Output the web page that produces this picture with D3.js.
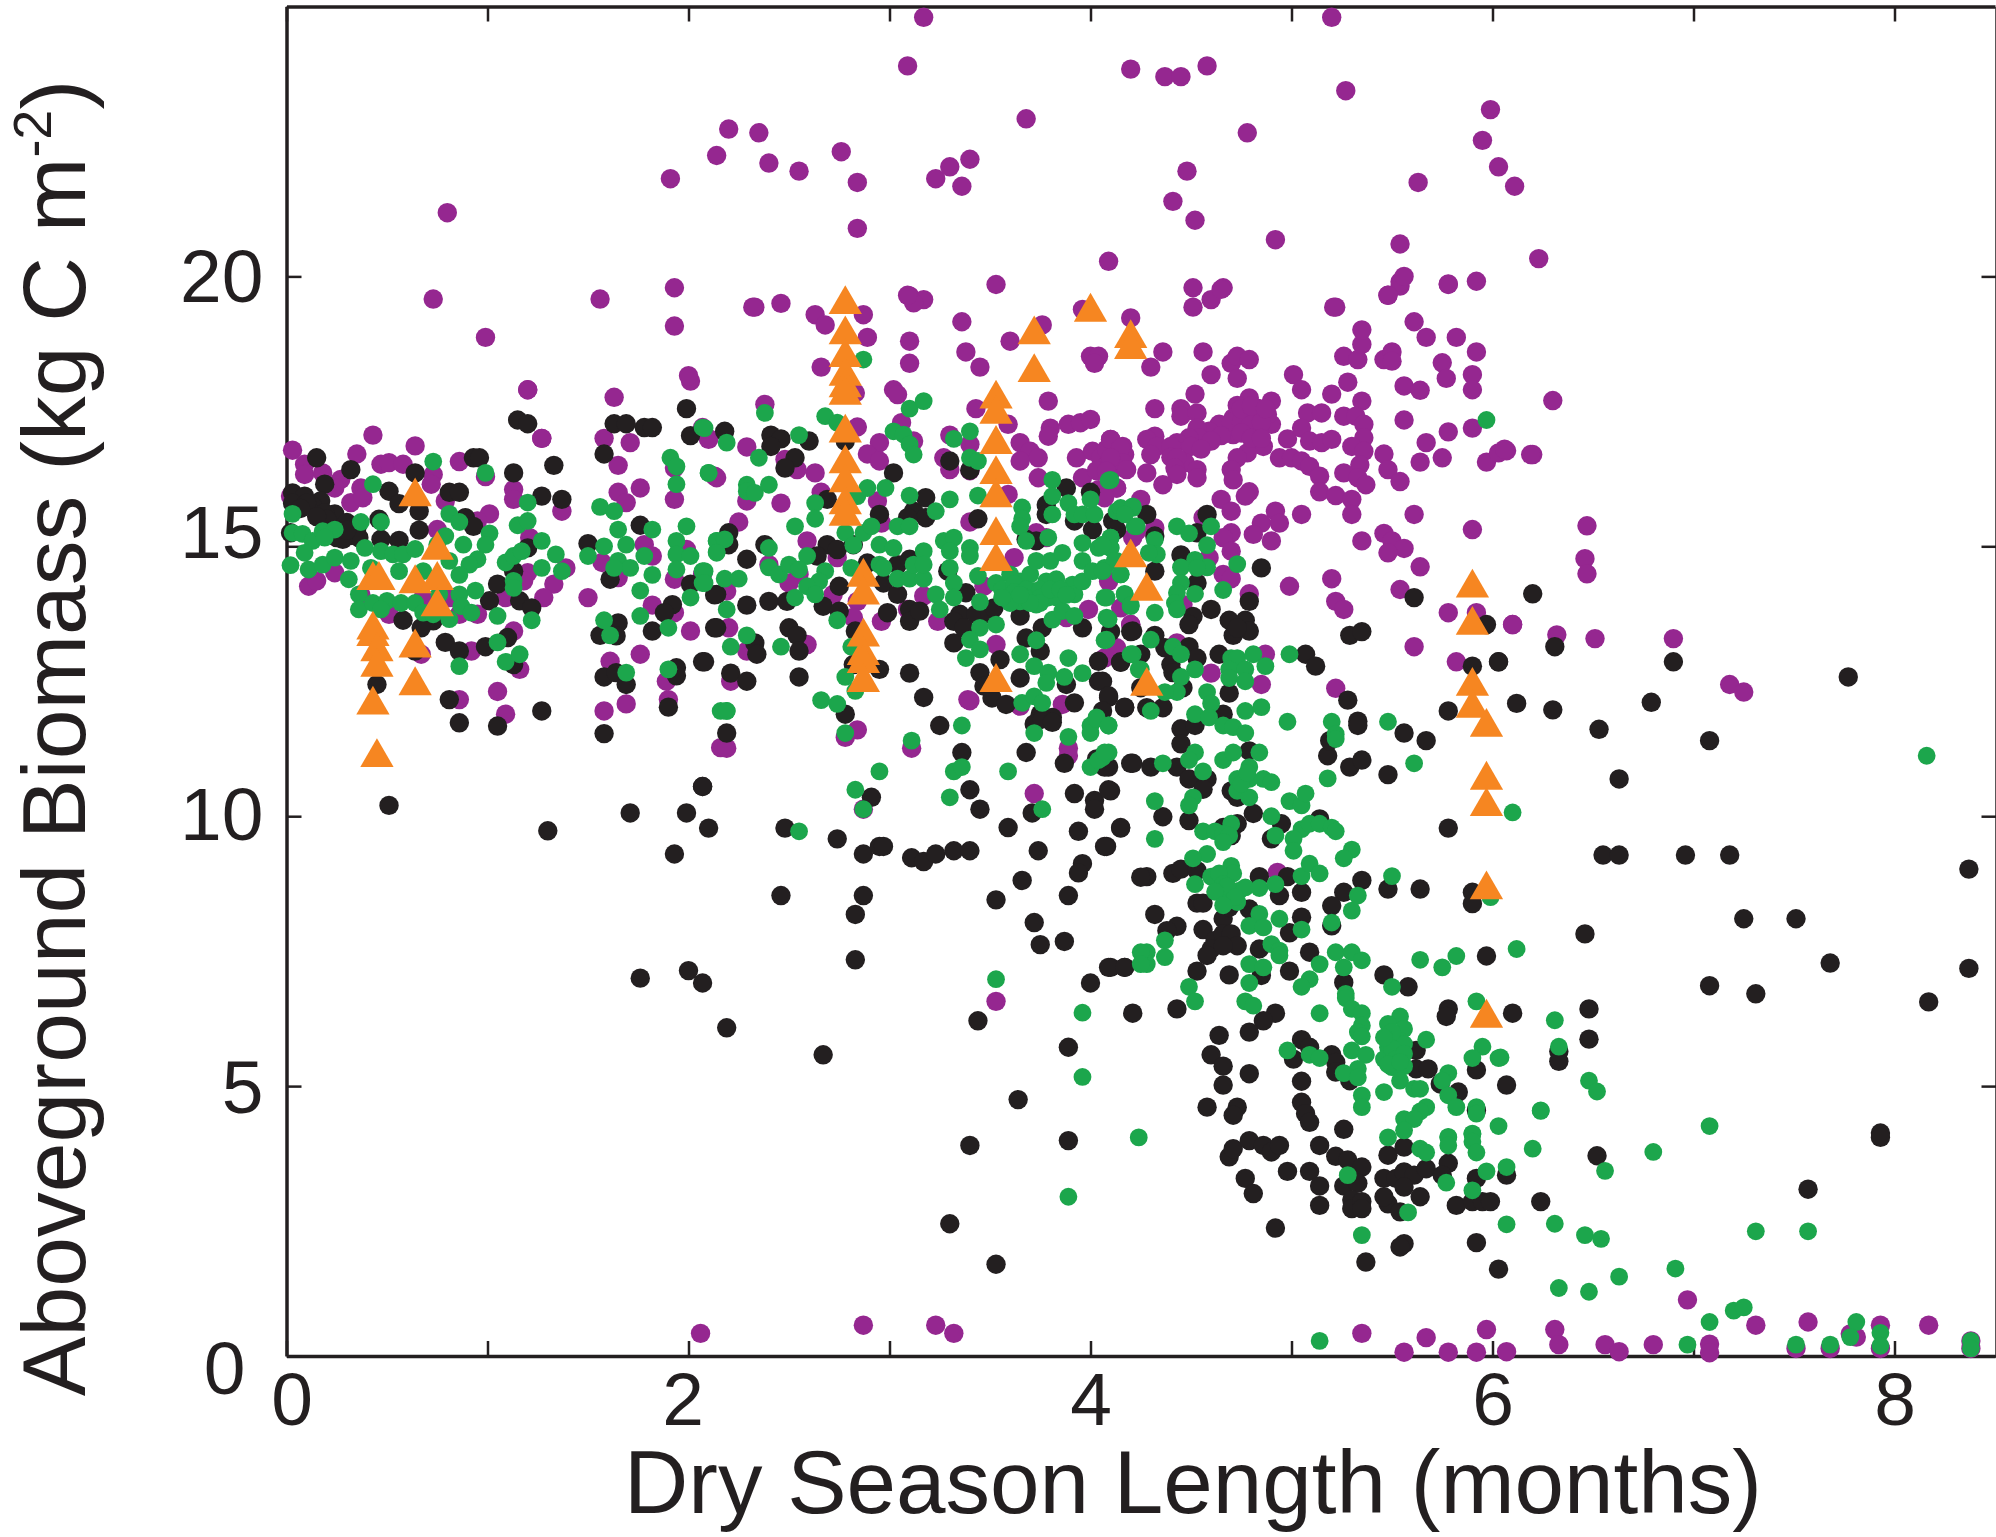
<!DOCTYPE html>
<html lang="en">
    <head>
        <meta charset="UTF-8">
        <title>Aboveground Biomass vs Dry Season Length</title>
        <script src="https://d3js.org/d3.v7.min.js"></script>
        <style>
            body { margin: 0; padding: 0; background: #fff; overflow: hidden; }
            svg { display: block; font-family: "Liberation Sans", sans-serif; }
            text { fill: #231f20; }
        </style>
    </head>
    <body>
        <svg id="chart" width="1996" height="1537"></svg>
        <script>
            const xTicks = [0, 1, 2, 3, 4, 5, 6, 7, 8];
            const xTickLabels = ["0", "", "2", "", "4", "", "6", "", "8"];
            const yTicks = [0, 5, 10, 15, 20];
            const yTickLabels = ["0", "5", "10", "15", "20"];

            // [dry season months, biomass kg C / m2]
            const purple = [
                [.03,16.78],[.09,16.52],[.09,16.33],[.18,16.36],[.27,16.24],[.24,16.08],[.43,17.06],[.35,16.71],[.47,16.52],[.51,16.55],[.58,16.52],[.64,16.86],[.73,16.33],[.72,16.15],
                [.37,16.08],[.32,15.81],[.38,15.9],[.02,15.93],[.79,15.84],[.86,16.57],[.99,16.29],[1.01,15.6],[.75,15.31],[.95,15.47],[1.27,17],[1.2,17.9],[1.13,16.05],[1.13,15.87],[1.37,15.65],[1.21,15.16],[1.2,14.51],[1.39,14.6],[1.33,14.3],[1.28,14.05],[1.09,14.05],[1.18,14.36],
                [.11,14.26],[.15,14.36],[.24,14.51],[.37,14.1],[.51,13.74],[.68,14.05],[.81,14.05],[.86,13.74],[.95,13.74],[1.13,13.43],[.67,13],[.92,13.06],[1.16,12.72],[.86,12.16],[1.05,12.31],[1.09,11.89],[1.5,14.05],
                [1.63,17.76],[2.01,18.06],[1.58,17],[1.71,16.92],[1.65,16.5],[1.93,16.45],[2.07,17.2],[2.1,17],[2.13,16.3],[1.65,16],[1.76,16.08],[1.69,15.81],[1.93,15.87],[1.78,15.03],[1.82,14.82],[1.57,14.7],[1.65,14.42],[1.93,14.39],[1.99,14.94],
                [1.82,13.91],[1.93,13.77],[2.01,13.43],[1.76,13],[1.61,12.87],[1.89,12.5],[1.69,12.08],[1.9,12.16],[1.58,11.95],[2.16,11.27],
                [2.33,19.43],[2.46,19.5],[2.63,19.29],[2.68,19.1],[2.87,19.29],[2.89,18.87],[3.1,19.64],[3.17,19.57],[3.12,19.51],[3.53,19.85],[3.36,19.16],[3.1,18.8],[3.1,18.39],[3.38,18.6],[3.45,18.32],[3.6,18.8],[3.76,19.1],[3.96,19.39],[4,18.52],[4.04,18.52],[4.02,18.39],[4.2,19.23],[2.66,18.32],[2.83,17.84],[3.02,17.9],[3.04,17.81],
                [2.38,17.63],[3.43,17.55],[3.79,17.69],[3.06,17.29],[2.84,17.21],[3.3,17.06],[3.12,16.95],[2.95,16.92],[2.89,16.71],[2.95,16.58],[3.27,16.64],[3.3,16.42],[3.4,16.89],[3.4,16.4],
                [3.59,17.26],[3.65,16.92],[3.8,17.19],[3.79,17.04],[3.89,17.26],[3.95,17.29],[4,17.35],[3.7,16.76],[3.74,16.64],[3.65,16.58],[3.74,16.27],[3.93,16.64],[4.01,16.76],[4.1,16.98],[4.16,16.85],[4.05,16.64],[4.13,16.64],[4.16,16.5],[3.96,16.27],[4.04,16.05],[4.13,16.08],[3.59,15.96],
                [2.1,16.98],[2.29,16.84],[2.14,16.27],[2.48,16.61],[2.54,16.42],[2.63,16.36],[2.29,15.84],[2.46,15.8],[2.66,16],[2.94,15.84],[2.25,15.45],[3.4,15.45],[2.96,15.43],
                [2.59,15.1],[3.73,15.25],[3.78,15.16],[4.21,15.16],[2.74,14.79],[3.62,14.79],[2.4,14.66],[2.55,14.48],[2.5,14.32],[2.19,14.17],[2.07,14.48],[2.72,14.11],[2.84,13.98],[3.17,14.08],[2.82,13.68],[3.09,13.83],[2.96,13.61],[3.24,13.61],[3.47,14.26],[3.88,13.68],[3.99,13.83],[4.2,13.55],[3.53,13.18],[2.2,13.49],[2.29,13.06],[2.21,12.5],[3.39,12.16],[3.86,12.07],[3.65,12.04],[4.13,13.12],[2.59,13.18],
                [4.51,19.79],[4.51,19.43],[4.6,19.57],[4.66,19.79],[5.48,19.65],[5.54,19.82],[5.78,19.85],[5.92,19.91],[5.22,19.43],[4.36,18.6],[4.3,18.32],[4.56,18.6],[4.6,18.18],[4.7,18.39],[4.73,18.52],[4.79,18.46],[4.73,18.11],
                [5.01,18.18],[5.05,17.9],[5.2,17.82],[5.28,18.04],[5.26,18.52],[5.33,18.46],[5.35,18.74],[5.35,19.01],[5.46,18.46],[5.5,18.6],[5.5,18.43],[5.61,19.16],[5.67,18.87],[5.82,18.87],[5.92,18.6],[5.75,18.4],[5.77,18.11],[5.9,18.18],[5.9,17.9],[5.56,17.97],[5.64,17.89],[5.35,17.69],
                [4.52,17.82],[4.32,17.55],[4.45,17.55],[4.45,17.41],[4.53,17.47],[4.9,17.69],[4.79,17.75],[4.73,17.61],[4.83,17.56],[4.9,17.26],[4.88,17.44],[4.78,17.44],[4.71,17.38],[4.64,17.26],[4.78,17.19],[4.84,17.19],[4.71,17.07],[4.59,17.13],[4.53,17.19],[4.54,17.01],[4.49,17.01],[4.43,16.92],[4.32,17.04],[4.28,16.98],[4.33,16.85],[4.4,16.85],[4.3,16.7],[4.86,16.85],[4.78,16.73],[4.73,16.64],[4.7,16.42],[4.71,16.23],[4.79,16.01],[4.77,15.93],
                [4.7,17.3],[4.75,17.3],[4.8,17.3],[4.85,17.3],[4.75,17.1],[4.8,17],[4.85,17],[4.75,17.55],[4.8,17.6],[4.87,17.55],[4.65,17.05],[4.6,16.95],[4.5,16.85],[4.55,16.8],[4.4,16.65],[4.47,16.55],[4.08,16.8],[4.13,16.8],[4.08,16.5],[4.12,16.45],[4.03,16.4],[4.17,16.7],
                [4.43,16.64],[4.53,16.42],[4.42,16.45],[4.53,16.27],[4.43,16.33],[4.28,16.36],[4.36,16.14],[4.1,16.98],[4.15,16.82],[4.16,16.55],[4.1,16.64],[4.18,16.42],[4.08,16.39],[4.13,16.08],[4.07,15.9],[4.25,15.87],
                [4.98,16.99],[5.08,17.47],[5.15,17.47],[5.05,17.19],[5.09,16.95],[5.15,16.92],[5.2,16.98],[4.94,16.64],[5,16.64],[5.05,16.58],[5.09,16.48],[5.14,16.3],[5.14,16.01],[5.22,15.94],[5.3,15.87],[5.3,15.59],
                [5.26,17.41],[5.32,17.41],[5.36,17.26],[5.36,17.01],[5.3,16.85],[5.36,16.76],[5.34,16.51],[5.26,16.36],[5.33,16.27],[5.37,16.14],[5.46,16.71],[5.48,16.42],[5.54,16.2],[5.56,17.34],[5.67,16.92],[5.64,16.56],[5.75,16.64],[5.78,17.12],[5.9,17.19],[5.97,16.56],[6.03,16.73],[6.07,16.77],[6.2,16.7],
                [4.65,15.87],[4.7,15.65],[4.92,15.65],[4.85,15.43],[4.94,15.43],[4.81,15.22],[5.05,15.59],[4.9,15.1],[4.7,15.25],[4.66,15.16],[4.7,14.91],[4.66,14.48],[4.7,14.4],[4.59,14.79],[4.56,15.53],[4.32,15.34],[4.23,15.28],[5.46,15.24],[5.5,15.1],[5.56,14.96],[5.48,14.88],[5.35,15.1],[5.61,15.59],[5.64,14.62],[5.9,15.31],
                [4.99,14.26],[5.2,14.4],[5.22,13.98],[5.26,13.83],[5.54,14.2],[4.79,14.12],[5.78,13.77],[5.92,13.77],[6.1,13.55],[5.61,13.14],[5.82,12.86],[4.87,13],[4.85,12.44],[4.6,12.65],[5.22,12.37],[4.2,13.55],[4.43,13.21],[4.15,13.86],[4.09,14.35],[4.46,13.92],[4.07,12.93],
                [2.19,11.26],[2.78,11.46],[2.84,11.6],[3.11,11.26],[2.87,10.13],[3.4,12.14],[3.89,11.26],[3.89,11.12],[3.72,10.42],[3.53,6.57],[4.93,8.96],
                [3.17,24.8],[3.09,23.9],[5.2,24.8],[5.27,23.44],[4.2,23.84],[4.37,23.7],[4.45,23.7],[4.58,23.9],[3.68,22.92],[4.78,22.66],[2.2,22.73],[2.35,22.66],[2.14,22.24],[2.4,22.1],[2.55,21.95],[1.91,21.81],[2.76,22.31],[2.84,21.74],[3.23,21.81],[3.3,22.03],[3.4,22.17],[3.36,21.67],[4.48,21.95],[4.41,21.39],[4.52,21.04],[5.99,23.09],[5.95,22.52],[6.03,22.03],[6.11,21.67],[5.63,21.74],[5.54,20.6],[4.92,20.68],[6.23,20.33],[2.84,20.89],[.8,21.18],[.73,19.58],[.99,18.87],[1.56,19.58],[1.93,19.79],[1.93,19.08],[2,18.16],[2.32,19.43],[4.09,20.28],[3.09,19.65],[4.65,19.76],[5.54,19.9],[5.56,20],[5.48,19.65],[5.78,19.86],[5.21,19.43],
                [1.2,17.9],[6.3,17.7],[6.19,16.7],[6.06,16.8],[6.47,15.38],[6.46,14.77],[6.47,14.49],[6.32,13.36],[6.51,13.29],[6.9,13.29],[7.18,12.44],[7.25,12.3],[6.1,13.55],[1.27,17],
                [2.06,.42],[2.87,.57],[3.23,.57],[3.32,.42],[5.35,.42],[5.56,.07],[5.67,.34],[5.78,.07],[5.92,.07],[5.97,.49],[6.07,.08],[6.31,.49],[6.33,.21],[6.56,.21],[6.63,.08],[6.8,.21],[6.97,1.04],[7.08,.22],[7.08,.06],[7.31,.57],[7.57,.63],[7.51,.14],[7.68,.14],[7.78,.41],[7.81,.35],[7.93,.57],[7.93,.14],[8.17,.57],[8.38,.28],[8.38,.14]
            ];

            const black = [
                [.15,16.64],[.32,16.42],[.64,16.36],[.19,16.15],[.03,15.99],[.09,15.93],[.17,15.84],[.03,15.8],[.13,15.74],[.24,15.6],[.19,15.62],[.3,15.44],[.35,15.34],[.32,15.2],[.36,15.16],[.02,15.25],[.25,15.16],[.28,15.13],[.1,15.8],[.2,15.5],[.15,15.55],[.07,15.7],[.25,15.3],[.3,15.3],
                [.51,16.02],[.56,15.79],[.66,15.65],[.66,15.3],[.46,15.5],[.47,15.13],[.56,15.11],[.81,16],[.86,16],[.93,16.64],[.96,16.64],[.89,15.53],[.93,15.37],[1.13,16.36],[1.33,16.5],[1.27,15.93],[1.37,15.87],[1.15,17.34],[1.2,17.27],[1.63,17.27],[1.69,17.27],[1.78,17.2],[1.82,17.2],[1.99,17.55],[2.01,17.05],[1.58,16.71],
                [1.2,14.97],[1.13,14.54],[1.05,14.3],[1.01,13.99],[1.16,13.99],[1.22,13.86],[1.1,13.31],[.99,13.14],[.79,13.22],[.86,13.06],[.64,13.06],[.73,13.62],[.67,13.49],[.58,13.63],[1.13,12.81],[.45,12.44],[.81,12.16],[.86,11.73],[1.05,11.67],[1.27,11.95],[1.58,11.53],[.51,10.2],[2.07,10.55],[1.71,10.06],[1.99,10.06],
                [1.61,14.39],[1.5,15.05],[1.76,15.39],[2.01,14.3],[2.13,14.1],[1.92,13.92],[1.88,13.77],[1.82,13.43],[1.65,13.58],[1.56,13.35],[1.64,13.34],[2.13,13.49],[1.58,12.58],[1.64,12.66],[1.69,12.44],[1.94,12.75],[1.94,12.6],[2.07,12.86],[1.9,12.02],
                [2.18,17.13],[2.41,17.06],[2.46,16.99],[2.41,16.85],[2.6,16.95],[2.53,16.64],[2.48,16.45],[3.3,16.58],[3.4,16.41],[2.78,16.95],[3.02,16.36],[2.69,15.87],[2.95,15.59],[3.12,15.65],[3.18,15.9],[3.18,15.53],[3.09,15.53],[3.44,15.51],
                [2.2,15.25],[2.2,15.03],[2.38,15.03],[2.29,14.76],[2.69,15.03],[2.74,14.94],[2.82,15.03],[2.64,14.82],[2.89,14.69],[3.04,14.66],[3.1,14.76],[3.29,14.54],[2.14,14.11],[2.29,13.91],[2.4,13.98],[2.49,13.98],[2.67,13.89],[2.75,14.26],[2.97,14.32],[3.04,14.11],[3.38,14.14],
                [2.99,13.77],[3.1,13.83],[3.1,13.61],[3.15,13.8],[2.75,13.8],[2.14,13.49],[2.5,13.49],[2.54,13.35],[2.33,13.21],[2.55,13.06],[2.34,13],[2.08,12.86],[2.21,12.65],[2.29,12.5],[2.55,12.58],[3.1,12.65],[3.17,12.2],[2.95,12.72],[2.83,13.43],[2.82,12.81],[2.78,11.89],
                [3.35,13.74],[3.32,13.61],[3.43,13.74],[3.5,13.74],[3.32,13.21],[3.52,13.86],[3.37,13.49],[3.65,13.71],[3.96,13.49],[3.68,13.3],[3.76,13.49],[3.75,13.06],[3.55,12.9],[4.04,12.87],[4.15,12.85],[4.21,13.43],[3.45,12.66],[3.47,12.41],[3.65,12.56],[3.88,12.44],[4.04,12.5],[4.09,12.2],[3.92,12.1],[4.17,12.01],[3.51,12.19],[3.58,12.07],[3.75,11.89],[3.81,11.83],
                [3.88,16.08],[4,16],[3.78,15.77],[3.78,15.59],[3.92,15.47],[4.01,15.31],[4.11,15.47],[3.68,15.13],[3.73,15.1],
                [4.28,15.59],[4.58,15.59],[4.13,15.31],[4.32,15.19],[4.53,15.25],[4.45,14.84],[4.32,14.54],[4.53,14.32],[4.85,14.6],[4.79,13.98],[5.61,14.05],[6.2,14.12],[5.97,13.55],[4.6,13.83],[4.51,13.7],[4.49,13.55],[4.69,13.63],[4.77,13.63],[4.79,13.43],[4.71,13.35],[4.73,13.49],
                [4.2,13.42],[4.32,13.35],[4.1,13.42],[4.37,13.12],[4.25,13],[4.15,12.86],[4.64,13],[4.49,13.14],[4.53,12.93],[4.4,12.81],[4.41,12.66],[4.06,12.5],[5.07,13],[5.12,12.78],[5.29,13.35],[5.35,13.42],[5.28,12.15],[5.9,12.78],[6.03,12.86],[5.78,11.95],[6.12,12.09],[4.69,12.28],[4.09,12.23],[4.17,12.02],[4.25,12.38],[4.28,12.01],[4.36,12.01],[4.46,12.38],[4.66,11.89],[4.06,11.95],[5.33,11.76],
                [4.1,10.47],[4.2,10.98],[4.3,10.91],[4.09,10.91],[4.45,11.62],[4.52,11.68],[4.45,11.34],[4.43,10.91],[4.49,10.69],[4.58,10.69],[4.56,10.5],[4.79,11.21],[4.7,10.47],[4.73,10.35],[4.81,10.05],[4.36,9.99],[4.49,9.92],[4.15,9.78],[4.08,9.44],[4.66,9.79],[4.73,9.86],[4.7,9.64],[4.95,9.86],[4.9,9.58],[5.14,9.95],
                [5.18,11.12],[5.19,11.4],[5.29,10.91],[5.35,11.04],[5.33,11.68],[5.56,11.54],[5.67,11.4],[5.48,10.77],[5.78,9.78],
                [4.28,8.88],[4.41,8.94],[4.45,9.02],[4.53,8.99],[4.84,8.88],[4.98,8.88],[4.94,8.53],[5.05,8.59],[5.26,8.59],[5.35,8.81],[5.48,8.65],[5.64,8.65],[5.9,8.59],[5.9,8.38],[4.53,8.39],[4.56,8.39],[4.32,8.18],[4.43,7.96],[4.38,7.88],[4.56,7.9],[4.66,8.1],[4.69,8.31],[4.79,8.28],
                [4.62,7.7],[4.66,7.82],[4.7,7.82],[4.73,7.6],[4.6,7.54],[4.58,7.42],[4.66,7.6],[4.84,7.54],[5.05,8.13],[4.99,7.84],[5.2,8.34],[5.2,7.97],[5.09,7.48],[4.1,7.2],[4.17,7.2],[4.53,7.13],[4.69,7.06],[4.85,7.05],[4.99,7.13],[5.26,6.92],[5.46,7.06],[5.58,6.84],[5.97,7.41],
                [4.21,6.35],[4.43,6.43],[4.92,6.35],[4.86,6.21],[4.79,6],[5.78,6.43],[5.77,6.29],[6.1,6.35],[4.64,5.94],[5.05,5.86],[5.09,5.72],[5.01,5.5],[4.6,5.58],[4.66,5.37],[4.79,5.23],[5.2,5.58],[5.22,5.44],[5.22,5.26],[5.29,5.1],[5.05,5.09],[4.66,5.02],[5.62,5.66],[5.62,5.32],[5.68,5.32],[5.92,5.3],[5.83,4.89],[5.74,5.04],[6.07,5.02],[5.92,4.55],
                [4.58,4.61],[4.73,4.61],[4.71,4.46],[5.05,4.7],[5.07,4.49],[5.09,4.33],[5.26,4.2],
                [4.69,3.69],[4.71,3.84],[4.79,3.99],[4.86,3.9],[4.9,3.78],[4.94,3.9],[4.77,3.29],[4.81,3.01],[4.98,3.42],[5.09,3.42],[5.14,3.9],[5.22,3.7],[5.28,3.63],[5.35,3.5],[5.14,3.15],[5.14,2.79],[5.26,3.15],[5.33,3.2],[5.3,2.89],[5.3,2.73],[5.35,2.86],[5.35,2.73],[5.48,3.72],[5.56,3.87],[5.46,3.29],[5.52,3.29],[5.56,3.41],[5.61,3.35],[5.67,3.47],[5.56,3.13],[5.48,2.82],[5.46,2.95],[5.54,2.67],[5.64,2.95],[5.78,3.57],[5.75,3.35],[5.92,3.29],[6.07,3.35],[5.82,2.79],[5.9,2.86],[5.95,2.86],[5.99,2.86],[6.24,2.86],[4.92,2.37],[5.56,2.08],[5.54,2.02],[5.92,2.1],[5.37,1.74],[6.03,1.61],
                [6.48,6.43],[6.48,5.87],[6.33,5.64],[6.33,5.46],[6.52,3.71],[7.57,3.09],[7.93,4.13],[7.93,4.05],[8.17,6.56],[7.31,6.71],
                [2.19,11.54],[3.25,11.68],[3.36,11.18],[3.68,11.18],[3.72,11.71],[3.76,11.8],[3.81,11.74],[3.87,10.98],[4.07,10.91],[4.21,10.98],[4.03,11.06],[3.92,10.42],[4.02,10.29],[4.02,10.13],[4.09,10.49],[2.07,10.55],[2.91,10.35],[3.4,10.49],[3.45,10.13],[3.71,10.06],
                [2.1,9.78],[2.48,9.78],[2.74,9.58],[2.87,9.3],[2.95,9.44],[2.97,9.44],[3.11,9.23],[3.17,9.16],[3.23,9.3],[3.32,9.36],[3.4,9.36],[3.59,9.79],[3.74,9.36],[3.94,9.72],[4.15,9.79],[4.07,9.44],[3.96,9.12],[3.94,8.95],[3.66,8.81],[3.53,8.45],[3.89,8.53],[4.25,8.87],
                [2.46,8.53],[2.87,8.53],[2.83,8.18],[3.72,8.03],[3.75,7.62],[3.87,7.68],[2.83,7.34],[2.07,6.91],[4.09,7.2],[4.17,7.2],[4,6.91],[2.19,6.08],[3.44,6.21],[2.67,5.58],[3.89,5.72],[3.64,4.75],[3.89,3.99],[3.4,3.9],[3.3,2.45],[3.53,1.7],
                [1.3,9.73],[1.93,9.3],[1.76,7],[2,7.14],
                [6.31,13.14],[6.03,12.86],[6.3,11.97],[6.53,11.61],[6.63,10.69],[6.55,9.28],[6.63,9.28],[6.79,12.11],[6.9,12.86],[7.08,11.4],[7.77,12.58],[6.96,9.28],[7.18,9.28],[7.25,8.1],[7.51,8.1],[8.37,9.02],[8.37,7.18],[7.08,6.86],[7.68,7.28],[6.46,7.82]
            ];

            const green = [
                [.03,15.6],[.43,16.15],[.73,16.57],[.99,16.36],[1.2,15.81],[.03,15.25],[.08,15.23],[.13,15.1],[.18,15.28],[.24,15.31],[.19,15.16],[.37,15.45],[.47,15.45],[.39,14.97],[.47,14.91],[.53,14.85],[.58,14.85],[.64,14.95],[.75,15.03],[.81,15.6],[.86,15.45],[.79,15.19],[.88,15.03],[1.01,15.24],[.99,15.03],[.95,14.76],[.91,14.66],[.86,14.47],
                [.02,14.65],[.09,14.88],[.11,14.57],[.18,14.66],[.24,14.79],[.32,14.73],[.31,14.39],[.42,14.6],[.56,14.54],[.68,14.54],[.81,14.73],[.36,14.11],[.36,13.83],[.43,13.95],[.5,13.99],[.57,13.95],[.64,13.95],[.47,13.83],[.68,13.77],[.76,14.11],[.73,13.74],[.81,13.65],
                [.86,14.11],[.94,14.18],[.87,13.89],[.92,13.77],[1.05,13.71],[1.22,13.63],[1.09,14.7],[1.13,14.82],[1.17,14.91],[1.15,15.39],[1.2,15.47],[1.27,15.1],[1.34,14.85],[1.27,14.6],[1.37,14.54],[1.13,14.36],[1.13,14.23],[1.05,13.22],[1.09,12.86],[1.16,13],[.86,12.78],
                [1.56,15.73],[1.63,15.65],[1.5,14.82],[1.58,15],[1.65,15.31],[1.69,15.03],[1.78,14.82],[1.82,15.31],[1.82,14.47],[1.65,14.73],[1.71,14.6],[1.63,14.6],[1.76,14.18],[1.91,16.64],[1.94,16.48],[1.94,16.15],[2.07,17.2],[2.1,16.36],[1.99,15.37],[1.94,15.1],[1.94,14.85],[1.94,14.57],[2.01,14.82],[2.07,14.54],[2.07,14.32],[2.01,14.05],[2.14,15.1],[2.14,14.9],
                [1.76,13.71],[1.58,13.63],[1.61,13.35],[1.9,13.49],[1.69,12.66],[1.9,12.72],[2.16,11.95],
                [2.08,17.19],[2.19,16.92],[2.55,17.06],[2.35,16.64],[2.1,16.36],[2.38,17.47],[2.68,17.41],[2.74,17.29],[2.87,18.46],[3.1,17.55],[3.17,17.69],[3.02,17.13],[3.07,17.07],[3.1,16.89],[3.12,16.7],[3.32,16.99],[3.4,17.13],[3.4,16.64],[3.44,16.58],
                [2.29,16.14],[2.29,16.02],[2.33,15.99],[2.4,16.14],[2.63,15.8],[2.63,15.51],[2.53,15.37],[2.84,15.93],[2.89,16.08],[2.98,16.08],[3.1,15.94],[3.23,15.65],[3.3,15.87],[3.44,15.94],[3.66,15.72],[3.66,15.51],[3.65,15.37],[3.68,15.1],[3.79,15.16],[3.81,16.23],[3.81,15.93],[3.81,15.59],[3.89,15.8],[3.92,15.59],[3.96,15.59],[4.02,15.59],[4,15.87],[4.1,16.23],[4.13,15.65],[4.21,15.71],[4.22,15.37],[4.17,15.65],
                [2.14,15.1],[2.18,15.13],[2.14,14.88],[2.4,14.97],[2.59,14.82],[2.4,14.61],[2.45,14.48],[2.5,14.66],[2.55,14.57],[2.68,14.54],[2.65,14.35],[2.59,14.26],[2.63,14.11],[2.53,14.05],[2.08,14.54],[2.08,14.32],[2.18,14.4],[2.25,14.4],[2.19,13.83],
                [2.78,15.25],[2.87,15.25],[2.91,15.37],[2.82,15.02],[2.95,15.03],[3.02,14.97],[3.04,15.37],[3.1,15.37],[2.81,14.6],[2.95,14.66],[2.97,14.6],[3.04,14.4],[3.1,14.4],[3.17,14.4],[3.12,14.66],[3.17,14.91],[3.17,14.66],[3.27,15.1],[3.32,15.16],[3.3,14.91],[3.3,14.6],[3.32,14.32],[3.23,14.11],[3.25,13.83],[3.32,14.05],[3.45,13.97],[3.4,14.97],[3.4,14.82],[3.44,14.45],
                [3.53,14.32],[3.6,14.48],[3.6,14.05],[3.65,14.35],[3.65,13.98],[3.7,14.48],[3.72,14.17],[3.73,13.92],[3.78,14.35],[3.79,14.05],[3.73,14.73],[3.8,14.73],[3.83,14.39],[3.83,14.05],[3.86,14.88],[3.91,14.29],[3.92,14.11],[3.96,15.06],[3.96,14.73],[3.96,14.35],[4.04,14.97],[4.1,15.16],[4.1,14.97],[4.01,14.54],[4.07,14.6],[4.13,14.73],[4.15,14.48],[4.07,14.05],[4.17,14.11],[4.2,13.89],[3.81,13.64],[3.86,13.8],[3.92,13.71],[4.08,13.68],[4.07,13.26],
                [3.56,14.2],[3.62,14.3],[3.62,14.15],[3.68,14.2],[3.68,14.05],[3.75,14.2],[3.75,14.05],[3.75,13.95],[3.8,14.2],[3.85,14.2],[3.88,14.1],[3.7,13.95],[3.6,13.95],[3.56,14.05],[3.65,14.1],
                [3.45,13.49],[3.53,13.55],[3.4,13.27],[3.45,13.09],[3.38,12.93],[3.73,13.26],[3.65,13],[3.72,12.78],[3.79,12.66],[3.78,12.47],[3.87,12.58],[3.96,12.65],[3.89,12.93],[4.21,13],[4.25,12.72],[3.66,12.1],[3.72,12.22],[3.76,12.1],
                [2.74,13.63],[2.29,13.35],[2.21,13.14],[2.46,13.14],[2.81,13.14],[2.78,12.58],[2.83,12.32],[2.66,12.15],[2.74,12.08],[2.19,11.95],[4.03,11.83],
                [4.09,16.22],[4.15,15.71],[4.21,15.74],[4.17,15.59],[4.23,15.37],[4.1,15.16],[4.1,14.97],[4.06,15.03],[4.32,15.12],[4.33,14.85],[4.29,14.88],[4.12,14.73],[4.15,14.48],[4.06,14.54],[4.43,15.37],[4.49,15.24],[4.6,15.37],[4.58,15.02],[4.73,14.67],[4.52,14.75],[4.45,14.61],[4.58,14.61],[4.53,14.6],[4.45,14.32],[4.43,14.14],[4.52,14.12],[4.66,14.19],[4.42,13.95],[4.43,13.83],
                [4.17,14.12],[4.2,13.91],[4.08,14.05],[4.32,13.77],[4.09,13.65],[4.08,13.27],[4.3,13.27],[4.2,13],[4.41,13.14],[4.45,13],[4.24,12.72],[4.99,13],[4.7,12.93],[4.73,12.93],[4.81,13],[4.87,12.78],[4.69,12.72],[4.77,12.72],[4.69,12.56],[4.77,12.5],[4.52,12.72],[4.45,12.58],[4.43,12.3],[4.37,12.3],[4.58,12.3],[4.6,12.09],[4.3,11.95],[4.52,11.89],[4.77,11.95],[4.85,12.02],[5.97,17.34],
                [4.59,11.83],[4.09,11.68],[4.98,11.75],[5.2,11.75],[5.48,11.75],[4.66,11.68],[4.71,11.65],[4.77,11.54],[5.22,11.52],[5.22,11.43],[4.09,11.18],[4.06,11.09],[4.36,10.98],[4.52,11.18],[4.49,11.04],[4.56,10.83],[4.66,11.04],[4.71,11.18],[4.84,11.18],[5.61,10.98],[5.18,10.7],[4.79,10.91],[4.73,10.69],[4.79,10.69],[4.86,10.69],[4.9,10.63],[4.73,10.47],[4.79,10.35],[4.75,10.6],[4.78,10.8],
                [4.51,10.35],[4.49,10.2],[4.32,10.28],[4.32,9.58],[4.99,10.28],[5.05,10.2],[5.07,10.42],[4.9,10],[4.56,9.72],[4.62,9.72],[4.7,9.86],[4.66,9.67],[4.69,9.64],[4.66,9.52],[4.92,9.64],[5.05,9.76],[5.09,9.86],[5.14,9.86],[5.2,9.79],[5.22,9.72],[5.01,9.58],[5.01,9.36],[5.3,9.38],[5.26,9.22],[6.1,10.07],
                [4.58,9.3],[4.51,9.22],[4.7,9.08],[4.71,8.94],[4.6,8.88],[4.64,8.94],[4.52,8.74],[4.66,8.74],[4.66,8.53],[4.73,8.41],[4.74,8.62],[4.77,8.68],[4.84,8.67],[4.92,8.74],[5.05,8.89],[5.09,9.12],[5.14,8.94],[5.5,8.89],[5.33,8.53],[5.3,8.25],[5.2,8.03],[5.05,7.9],[4.84,8.19],[4.79,7.97],[4.86,7.94],[4.94,8.1],[5.99,8.5],[4.68,8.7],[4.62,8.6],[4.72,8.5],[4.66,8.35],
                [4.37,7.7],[4.37,7.39],[4.28,7.48],[4.28,7.26],[4.9,7.63],[4.94,7.51],[4.94,7.42],[4.79,7.26],[4.86,7.2],[4.79,6.91],[5.22,7.48],[5.3,7.48],[5.35,7.33],[5.26,7.2],[5.14,7.26],[5.09,6.98],[5.05,6.84],[5.64,7.34],[5.75,7.2],[5.82,7.41],[6.12,7.54],[5.5,6.84],
                [4.49,6.84],[4.52,6.57],[4.77,6.57],[4.81,6.49],[5.27,6.71],[5.27,6.63],[5.3,6.43],[5.35,6.35],[5.14,6.35],[5.92,6.57],[5.35,6.12],[5.33,6],[5.35,5.92],[5.54,6.29],[5.48,6.15],[5.56,6.06],[5.54,5.84],[5.67,5.86],[5.48,5.72],[5.46,5.5],[5.56,5.78],[5.5,5.35],[5.56,5.37],[5.54,5.1],[5.46,4.89],[5.61,4.95],[5.64,4.95],[5.5,6],[5.5,5.7],[5.46,5.9],[5.52,5.5],[5.56,5.6],[5.48,5.4],[5.54,5.45],
                [4.98,5.66],[5.09,5.58],[5.14,5.52],[5.3,5.66],[5.37,5.58],[5.33,5.32],[5.26,5.24],[5.33,5.16],[5.35,4.83],[5.35,4.61],[5.95,5.73],[5.9,5.52],[6.03,5.52],[5.78,5.24],[5.75,5.1],[5.78,4.83],[5.82,4.61],[5.92,4.61],[5.92,4.49],[6.03,4.26],[6.24,4.55],[5.67,4.61],[5.64,4.53],[5.56,4.39],[5.61,4.39],[5.56,4.18],[5.48,4.05],[5.78,4.05],[5.9,4.11],[4.24,4.05],
                [5.9,4.12],[5.9,3.97],[5.92,3.77],[5.78,4.06],[5.78,3.9],[5.64,3.84],[5.67,3.77],[6.2,3.84],[6.07,3.5],[5.97,3.42],[5.77,3.21],[5.9,3.07],[5.28,3.35],[5.58,2.66],[5.35,2.24],[6.07,2.44],[5.14,.28],
                [6.31,6.22],[6.33,5.73],[6.48,5.1],[6.52,4.9],[6.24,4.54],[6.04,5.53],[6.56,3.43],[6.8,3.78],[7.08,4.26],[6.31,2.45],[6.46,2.24],[6.54,2.17],[7.31,2.31],[7.57,2.31],[6.33,1.26],[6.48,1.19],[6.63,1.47],[6.91,1.62],[7.08,.63],[7.2,.84],[7.25,.9],[6.97,.21],[7.51,.21],[7.68,.21],[7.81,.63],[7.78,.35],[7.93,.43],[7.93,.19],[8.38,.28],[8.38,.14],[8.16,11.12],
                [2.19,11.95],[2.78,11.54],[3.11,11.4],[3.36,11.68],[3.72,11.54],[3.89,11.47],[4,11.68],[4,11.54],[4.03,11.8],[4.09,11.68],[2.95,10.83],[3.32,10.83],[3.36,10.91],[3.59,10.83],[2.83,10.49],[2.87,10.13],[3.3,10.35],[2.55,9.72],[4,10.91],[4.04,11.04],[4.07,11.18],[3.76,10.13],[3.53,6.98],[3.96,6.36],[3.96,5.17],[4.25,7.48],[4.25,7.26],[3.89,2.95]
            ];

            const orange = [
                [.64,15.92],[.75,14.93],[.43,14.37],[.46,14.37],[.64,14.31],[.75,14.37],[.75,13.88],[.43,13.45],[.43,13.33],[.45,13.05],[.45,12.76],[.64,13.12],[.64,12.42],[.43,12.06],[.45,11.09],
                [2.78,19.48],[2.78,18.92],[2.78,18.5],[2.78,18.15],[2.78,17.94],[2.78,17.8],[2.78,17.1],[2.78,16.53],[2.78,16.18],[2.78,15.77],[2.78,15.56],[2.87,14.43],[2.87,14.1],[2.87,13.32],[2.87,12.98],[2.87,12.83],[2.87,12.48],
                [3.53,17.73],[3.53,17.45],[3.53,16.89],[3.53,16.33],[3.53,15.9],[3.53,15.2],[3.53,14.72],[3.53,12.48],[3.72,18.92],[3.72,18.22],[4,19.34],[4.2,18.85],[4.2,18.65],[4.2,14.79],[4.28,14.17],[4.28,12.41],
                [5.9,14.23],[5.9,13.54],[5.9,12.41],[5.9,12],[5.97,11.65],[5.97,10.67],[5.97,10.18],[5.97,8.64],[5.97,6.26]
            ];

            const colors = { purple: "#952790", black: "#231f20", green: "#1ca64c", orange: "#f68621" };
            const ink = "#231f20";

            const svg = d3.select("#chart");

            const x = d3.scaleLinear().domain([0, 8.5]).range([286.5, 1995]);
            const y = d3.scaleLinear().domain([0, 25]).range([1356, 6.5]);

            // hand placed tick labels in the original, these nudge them back
            const xLabelNudge = { 0: 5, 2: -6 };
            const yLabelNudge = { 0: 13, 5: 2, 10: -1, 15: -13, 20: 1 };

            const bottomAxis = d3.axisBottom(x).tickValues(xTicks).tickSizeInner(-15).tickSizeOuter(0).tickPadding(16)
                .tickFormat((d, i) => xTickLabels[i]);
            const topAxis = d3.axisTop(x).tickValues(xTicks).tickSizeInner(-15).tickSizeOuter(0).tickFormat("");
            const leftAxis = d3.axisLeft(y).tickValues(yTicks).tickSizeInner(-15).tickSizeOuter(0).tickPadding(23)
                .tickFormat((d, i) => yTickLabels[i]);
            const rightAxis = d3.axisRight(y).tickValues(yTicks).tickSizeInner(-15).tickSizeOuter(0).tickFormat("");

            const axes = svg.append("g");
            axes.append("g").attr("transform", `translate(0,${y(25)})`).call(topAxis);
            axes.append("g").attr("transform", `translate(${x(8.5) + 1.5},0)`).call(rightAxis);
            const gBottom = axes.append("g").attr("transform", `translate(0,${y(0)})`).call(bottomAxis);
            const gLeft = axes.append("g").attr("transform", `translate(${x(0)},0)`).call(leftAxis);

            axes.selectAll("path.domain").attr("stroke", ink).attr("stroke-width", 3.5);
            axes.selectAll(".tick line").attr("stroke", ink).attr("stroke-width", 2.5);
            axes.selectAll("text").attr("font-family", null).attr("font-size", 75).attr("fill", ink);

            gBottom.selectAll(".tick text").attr("dx", d => xLabelNudge[d] || 0);
            gLeft.selectAll(".tick text")
                .attr("dy", d => (0.32 * 75 + yLabelNudge[d]) + "px")
                .attr("dx", d => d === 0 ? -18 : 0);

            const dots = [["purple", purple, 9.7], ["black", black, 9.7], ["green", green, 8.9]];
            dots.forEach(([name, values, r]) => {
                svg.append("g").attr("class", name)
                    .selectAll("circle")
                    .data(values)
                    .enter().append("circle")
                    .attr("cx", d => x(d[0]))
                    .attr("cy", d => y(d[1]))
                    .attr("r", r)
                    .attr("fill", colors[name]);
            });

            const triangle = d3.symbol().type(d3.symbolTriangle).size(480);
            svg.append("g").attr("class", "orange")
                .selectAll("path")
                .data(orange)
                .enter().append("path")
                .attr("d", triangle)
                .attr("transform", d => `translate(${x(d[0])},${y(d[1])})`)
                .attr("fill", colors.orange);

            svg.append("text")
                .attr("x", 1193)
                .attr("y", 1513)
                .attr("text-anchor", "middle")
                .attr("font-size", 89)
                .text("Dry Season Length (months)");

            const yTitle = svg.append("text")
                .attr("transform", "translate(85,738) rotate(-90)")
                .attr("text-anchor", "middle")
                .attr("font-size", 89.5);
            yTitle.append("tspan").text("Aboveground Biomass (kg C m");
            yTitle.append("tspan").attr("font-size", 54).attr("dy", -34).text("-2");
            yTitle.append("tspan").attr("dy", 34).text(")");
        </script>
    </body>
</html>
